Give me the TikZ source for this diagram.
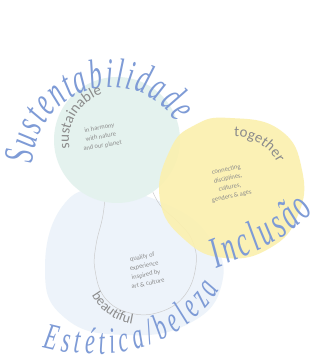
\documentclass[tikz,border=0pt]{standalone}
\usepackage{fontspec}
\usetikzlibrary{decorations.text}
\newfontfamily\scrfont{Liberation Serif}[FakeStretch=0.6]
\newfontfamily\carlfont{Carlito}
\definecolor{scriptblue}{HTML}{7E9BD6}
\definecolor{txtgray}{HTML}{8C8C8C}
\definecolor{mint}{HTML}{E4F2EE}
\definecolor{butter}{HTML}{FBF0AE}
\definecolor{skyw}{HTML}{EDF3FA}
\begin{document}
\begin{tikzpicture}[x=1pt,y=1pt,
  blocktext/.style={font=\carlfont\fontsize{6.5}{9}\selectfont, text=txtgray, align=center, inner sep=0pt},
  outlinegray/.style={draw=gray!40, line width=0.5pt}]
\useasboundingbox (0,0) rectangle (320,363);
\fill[white] (0,0) rectangle (320,363);
% blue wash
\fill[skyw] plot[smooth cycle, tension=0.8] coordinates {(65,160) (110,172) (168,158) (210,125) (222,80) (190,40) (125,28) (65,45) (45,95)};
% teardrop outline
\draw[outlinegray] plot[smooth, tension=0.7] coordinates {(106,178) (103,148) (96,118) (95,93) (105,65) (130,50) (160,51) (185,68) (196,98) (192,123) (178,141) (160,158) (150,178)};
% green circle
\fill[mint] (117,223) circle (63);
% yellow blob
\fill[butter, fill opacity=0.9] plot[smooth cycle, tension=0.8] coordinates {(230,245) (280,233) (302,193) (298,148) (270,115) (225,105) (185,123) (160,163) (170,213) (195,238)};
% script words
\path[decorate, decoration={text along path, text align={fit to path}, text={|\scrfont\itshape\fontsize{42}{42}\selectfont\color{scriptblue}|Sustentabilidade}}]
  (111,198) ++(179:78) arc[start angle=179, end angle=33, radius=78];
\path[decorate, decoration={text along path, text align={fit to path}, text={|\scrfont\itshape\fontsize{44}{44}\selectfont\color{scriptblue}|Inclusão}}]
  (216,95) .. controls (250,108) and (290,125) .. (314,152);
\path[decorate, decoration={text along path, text align={fit to path}, text={|\scrfont\itshape\fontsize{37}{37}\selectfont\color{scriptblue}|Estética/beleza}}]
  (43,16) .. controls (100,0) and (178,8) .. (220,74);
% gray arc words
\path[decorate, decoration={text along path, text align=center, text={|\carlfont\fontsize{15}{15}\selectfont\color{txtgray}|sustainable}}]
  (117,223) ++(200:48) arc[start angle=200, end angle=98, radius=48];
\path[decorate, decoration={text along path, text align=center, text={|\carlfont\fontsize{15}{15}\selectfont\color{txtgray}|together}}]
  (235,178) ++(97:48) arc[start angle=97, end angle=22, radius=48];
\path[decorate, decoration={text along path, text align=center, text={|\carlfont\fontsize{14}{14}\selectfont\color{txtgray}|beautiful}}]
  (142,96) ++(198:58) arc[start angle=198, end angle=272, radius=58];
% text blocks
\node[blocktext, rotate=10] (harmony) at (101,226) {in harmony\\with nature\\and our planet};
\node[blocktext, rotate=12] (connect) at (229,180) {connecting\\disciplines,\\cultures,\\genders \& ages};
\node[blocktext, rotate=12] (quality) at (145,93) {quality of\\experience\\inspired by\\art \& culture};
\end{tikzpicture}
\end{document}
